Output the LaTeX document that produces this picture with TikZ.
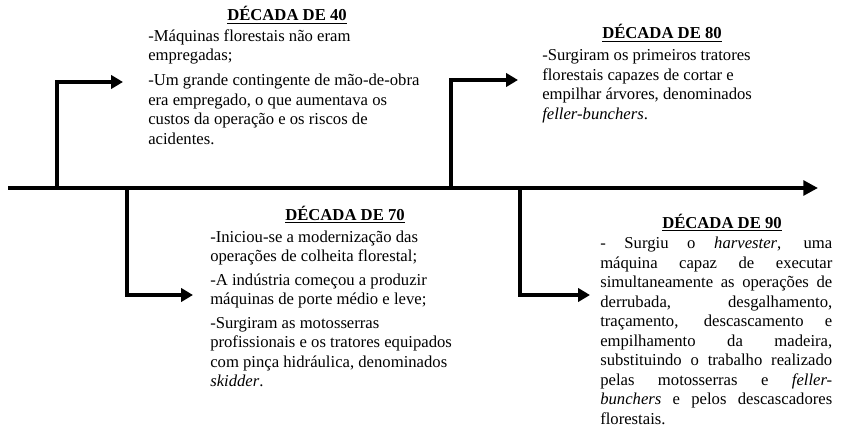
\documentclass[tikz,border=0pt]{standalone}
\usepackage{fontspec}
\setmainfont{Liberation Serif}
\usetikzlibrary{arrows.meta}

% Width of the justified block
\newlength{\jwidth}
\setlength{\jwidth}{174pt}
\newcommand{\jline}[1]{\makebox[\jwidth][s]{#1}}

\begin{document}
\begin{tikzpicture}[x=0.75pt, y=-0.75pt,
  axisline/.style={line width=3pt, -{Triangle[length=11pt, width=11pt]}},
  branch/.style={line width=3pt, -{Triangle[length=9pt, width=10pt]}},
  title/.style={anchor=base, inner sep=0pt, font=\fontsize{12.5}{14}\selectfont\bfseries},
  body/.style={anchor=north west, align=left, inner sep=0pt,
    font=\fontsize{12.5}{14.6}\selectfont, execute at begin node=\strut}]

% Fix the picture size
\useasboundingbox (0,0) rectangle (850,428);

% Draw the time axis
\coordinate (start) at (8,188);
\coordinate (end) at (818,188);
\draw[axisline] (start) -- (end);

% Points on the axis and arrow tips
\coordinate (a40) at (57,188);
\coordinate (a70) at (127,188);
\coordinate (a80) at (451,188);
\coordinate (a90) at (520,188);
\coordinate (tip40) at (123,82);
\coordinate (tip70) at (193,295);
\coordinate (tip80) at (518,80);
\coordinate (tip90) at (590,295);

% Draw the branches
\draw[branch] (a40) |- (tip40);
\draw[branch] (a70) |- (tip70);
\draw[branch] (a80) |- (tip80);
\draw[branch] (a90) |- (tip90);

% Decade titles
\node[title] (h40) at (287,21) {\underline{DÉCADA DE 40}};
\node[title] (h70) at (345,220) {\underline{DÉCADA DE 70}};
\node[title] (h80) at (662,39) {\underline{DÉCADA DE 80}};
\node[title] (h90) at (722,228) {\underline{DÉCADA DE 90}};

% Texts of each decade
\node[body] (t40) at (148,29.5) {-Máquinas florestais não eram\\ empregadas;\\[4pt]
  -Um grande contingente de mão-de-obra\\ era empregado, o que aumentava os\\
  custos da operação e os riscos de\\ acidentes.};
\node[body] (t70) at (210,230.5) {-Iniciou-se a modernização das\\ operações de colheita florestal;\\[3pt]
  -A indústria começou a produzir\\ máquinas de porte médio e leve;\\[3pt]
  -Surgiram as motosserras\\ profissionais e os tratores equipados\\
  com pinça hidráulica, denominados\\ \textit{skidder}.};
\node[body] (t80) at (542,49.5) {-Surgiram os primeiros tratores\\ florestais capazes de cortar e\\
  empilhar árvores, denominados\\ \textit{feller-bunchers}.};
\node[body] (t90) at (600,237) {\jline{- Surgiu o \textit{harvester}, uma}\\
  \jline{máquina capaz de executar}\\
  \jline{simultaneamente as operações de}\\
  \jline{derrubada, desgalhamento,}\\
  \jline{traçamento, descascamento e}\\
  \jline{empilhamento da madeira,}\\
  \jline{substituindo o trabalho realizado}\\
  \jline{pelas motosserras e \textit{feller-}}\\
  \jline{\textit{bunchers} e pelos descascadores}\\
  florestais.};
\end{tikzpicture}
\end{document}
